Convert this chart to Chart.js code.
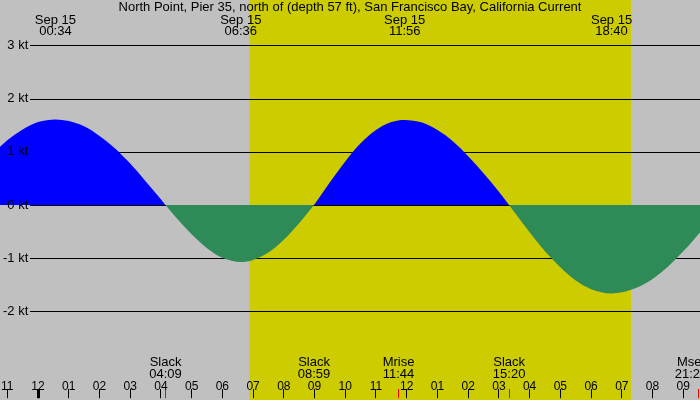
<!DOCTYPE html>
<html>
<head>
<meta charset="utf-8">
<script src="https://cdn.jsdelivr.net/npm/chart.js@4"></script>
<style>
  html, body { margin: 0; padding: 0; background: #c0c0c0; }
  #wrap { width: 700px; height: 400px; }
</style>
</head>
<body>
<div id="wrap"><canvas id="myChart"></canvas></div>
<script>
const title = 'North Point, Pier 35, north of (depth 57 ft), San Francisco Bay, California Current';
const day = 'Sep 15';

// current in knots, time in hours from midnight Sep 15 (flood +, ebb -)
const hours = [-1.25, -1, -0.5, 0, 0.57, 1, 1.5, 2, 2.5, 3, 3.5, 4, 4.15, 4.5, 5, 5.5, 6, 6.6,
    7, 7.5, 8, 8.5, 8.98, 9.5, 10, 10.5, 11, 11.5, 11.93, 12.5, 13, 13.5, 14, 14.5, 15, 15.33,
    15.5, 16, 16.5, 17, 17.5, 18, 18.67, 19, 19.5, 20, 20.5, 21, 21.55];
const knots = [1.09, 1.22, 1.42, 1.56, 1.61, 1.58, 1.48, 1.30, 1.07, 0.78, 0.45, 0.11, 0, -0.24, -0.55, -0.81, -0.99, -1.07,
    -1.03, -0.89, -0.65, -0.34, 0, 0.43, 0.82, 1.16, 1.41, 1.56, 1.60, 1.55, 1.41, 1.20, 0.92, 0.60, 0.25, 0,
    -0.13, -0.51, -0.87, -1.17, -1.42, -1.58, -1.66, -1.64, -1.55, -1.39, -1.16, -0.87, -0.51];

const peakTimes = ['00:34', '06:36', '11:56', '18:40'];
const eventNames = ['Slack', 'Slack', 'Mrise', 'Slack', 'Mset'];
const eventTimes = ['04:09', '08:59', '11:44', '15:20', '21:29'];
const sunrise = '06:53';
const sunset = '19:18';

const hourTicks = [-1, 0, 1, 2, 3, 4, 5, 6, 7, 8, 9, 10, 11, 12, 13, 14, 15, 16, 17, 18, 19, 20, 21];
const hourLabels = ['11', '12', '01', '02', '03', '04', '05', '06', '07', '08', '09', '10',
    '11', '12', '01', '02', '03', '04', '05', '06', '07', '08', '09'];
const ktTicks = [-2, -1, 0, 1, 2, 3];

function toHours(s) {
    const [h, m] = s.split(':').map(Number);
    return h + m / 60;
}
const eventHours = eventTimes.map(toHours);

const family = '"Liberation Sans", Arial, sans-serif';
const textFont = { family: family, size: 13, weight: 'normal' };
const fontCss = '13px ' + family;

const backdrop = {
    id: 'backdrop',
    beforeDraw(chart) {
        const { ctx, width, height, scales: { x } } = chart;
        ctx.save();
        ctx.fillStyle = '#c0c0c0';
        ctx.fillRect(0, 0, width, height);
        const x1 = x.getPixelForValue(toHours(sunrise));
        const x2 = x.getPixelForValue(toHours(sunset));
        ctx.fillStyle = '#cccc00';
        ctx.fillRect(x1, 0, x2 - x1, height);
        ctx.restore();
    },
    beforeDatasetsDraw(chart) {
        // grid lines start right of the kt labels
        const { ctx, chartArea, scales: { y } } = chart;
        ctx.save();
        ctx.strokeStyle = '#000';
        ctx.lineWidth = 1;
        ktTicks.forEach(v => {
            const py = Math.round(y.getPixelForValue(v)) + 0.5;
            ctx.beginPath();
            ctx.moveTo(30, py);
            ctx.lineTo(chartArea.right, py);
            ctx.stroke();
        });
        ctx.restore();
    },
    afterDraw(chart) {
        const { ctx, scales: { x } } = chart;
        ctx.save();
        ctx.fillStyle = '#000';
        ctx.font = fontCss;
        ctx.textAlign = 'center';
        ctx.textBaseline = 'alphabetic';
        peakTimes.forEach(t => {
            const px = x.getPixelForValue(toHours(t));
            ctx.fillText(day, px, 24);
            ctx.fillText(t, px, 35);
        });
        eventNames.forEach((name, i) => {
            const px = Math.min(x.getPixelForValue(eventHours[i]), 691);
            ctx.fillText(name, px, 366);
            ctx.fillText(eventTimes[i], px, 378);
        });
        ctx.restore();
    }
};

const data = {
    datasets: [{
        label: 'Current',
        data: hours.map((h, i) => ({ x: h, y: knots[i] })),
        borderWidth: 0,
        borderColor: 'rgba(0,0,0,0)',
        pointRadius: 0,
        cubicInterpolationMode: 'monotone',
        fill: { target: 'origin', above: '#0000ff', below: '#2e8b57' }
    }]
};

const config = {
    type: 'line',
    data: data,
    plugins: [backdrop],
    options: {
        responsive: true,
        maintainAspectRatio: false,
        animation: false,
        layout: { padding: 0, autoPadding: false },
        plugins: {
            legend: { display: false },
            tooltip: { enabled: false },
            title: {
                display: true,
                text: title,
                color: '#000',
                font: textFont,
                padding: { top: 0, bottom: 1 }
            }
        },
        scales: {
            x: {
                type: 'linear',
                position: 'bottom',
                min: -1.237,
                max: 21.545,
                afterBuildTicks: s => {
                    s.ticks = hourTicks.concat(eventHours).sort((a, b) => a - b).map(v => ({ value: v }));
                },
                border: { display: false },
                grid: {
                    drawOnChartArea: false,
                    drawTicks: true,
                    tickLength: 9,
                    color: c => eventHours.includes(c.tick.value) ? '#ff0000' : '#000000',
                    lineWidth: c => c.tick.value === 0 ? 3 : 1
                },
                ticks: {
                    mirror: true,
                    padding: -1,
                    autoSkip: false,
                    maxRotation: 0,
                    color: '#000',
                    font: { family: family, size: 12, lineHeight: 0.6 },
                    callback: v => {
                        const i = hourTicks.indexOf(v);
                        return i < 0 ? '' : hourLabels[i];
                    }
                }
            },
            y: {
                min: -3.461,
                max: 3.543,
                afterBuildTicks: s => { s.ticks = ktTicks.map(v => ({ value: v })); },
                afterFit: s => { s.width = 0; },
                border: { display: false },
                grid: { display: false, drawTicks: false },
                ticks: {
                    z: 1,
                    mirror: true,
                    padding: 3,
                    crossAlign: 'far',
                    color: '#000',
                    font: textFont,
                    callback: v => v + ' kt'
                }
            }
        }
    }
};

new Chart(document.getElementById('myChart'), config);
</script>
</body>
</html>
